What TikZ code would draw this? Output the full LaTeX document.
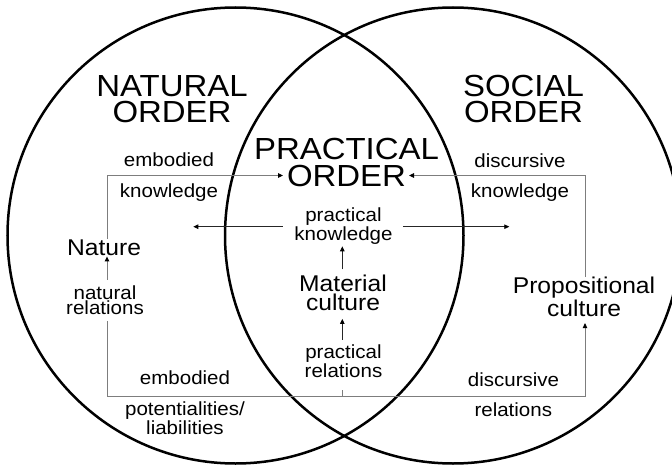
\documentclass[tikz,border=0pt]{standalone}
\usepackage{fontspec}
\setmainfont{Liberation Sans}[FakeStretch=1.08]
\usetikzlibrary{arrows.meta}
\newcommand\fBig{\fontsize{30.5}{26}\selectfont}
\newcommand\fBigP{\fontsize{30.5}{27.2}\selectfont}
\newcommand\fMid{\fontsize{22.8}{19.5}\selectfont}
\newcommand\fSm{\fontsize{19}{15.5}\selectfont}
\definecolor{linegray}{RGB}{125,125,125}
\tikzset{
  bigtxt/.style={font=\fBig, inner sep=0pt, align=center},
  midtxt/.style={font=\fMid, inner sep=0pt, align=center},
  smtxt/.style={font=\fSm, inner sep=0pt, align=center},
  gline/.style={draw=linegray, line width=0.9pt},
  kline/.style={draw=black!85, line width=0.8pt},
  arr/.style={-{Triangle[length=5pt,width=4.5pt,color=black]}},
  ring/.style={draw=black, line width=2.5pt}
}
\begin{document}
\begin{tikzpicture}[x=1pt,y=-1pt]
\useasboundingbox (0,0) rectangle (672,468);
% circles
\draw[ring] (235.5,235.5) circle[radius=228pt];
\draw[ring] (453,235.5) circle[radius=228pt];
% titles
\node[bigtxt] (natord) at (172,99.3) {NATURAL\\ORDER};
\node[bigtxt] (socord) at (523.5,99.3) {SOCIAL\\ORDER};
\node[bigtxt, font=\fBigP] (pracord) at (346.5,162.2) {PRACTICAL\\ORDER};
% labels
\node[smtxt, anchor=base] (emb1) at (169,167) {embodied};
\node[smtxt, anchor=base] (kn1) at (169,197) {knowledge};
\node[smtxt, anchor=base] (dis1) at (520,167.3) {discursive};
\node[smtxt, anchor=base] (kn2) at (520,197.5) {knowledge};
\node[midtxt, anchor=base] (nature) at (104,255) {Nature};
\node[smtxt] (pk) at (343.5,226.2) {practical\\knowledge};
\node[smtxt] (natrel) at (105,300.3) {natural\\relations};
\node[midtxt] (matcul) at (343,293) {Material\\culture};
\node[midtxt] (propcul) at (584,296.9) {Propositional\\culture};
\node[smtxt] (prel) at (343.5,361.5) {practical\\relations};
\node[smtxt, anchor=base] (emb2) at (185,384) {embodied};
\node[smtxt] (potlia) at (185,417.9) {potentialities/\\liabilities};
\node[smtxt, anchor=base] (dis2) at (513.5,386) {discursive};
\node[smtxt, anchor=base] (rel2) at (513.3,416.7) {relations};
% corner coordinates
\coordinate (ulc) at (107,175.5);
\coordinate (urc) at (585,175.5);
\coordinate (llc) at (107,396.5);
\coordinate (lrc) at (585,396.5);
\coordinate (ordL) at (283,175.5);
\coordinate (ordR) at (409,175.5);
\coordinate (pkL) at (193.3,226.7);
\coordinate (pkR) at (509.3,226.7);
\coordinate (midb) at (342.3,396.5);
% gray loop connectors
\draw[gline, arr] (nature.north -| ulc) -- (ulc) -- (ordL);
\draw[gline, arr, shorten <=5.5pt, shorten >=1pt] (natrel.north -| ulc) -- (nature.south -| ulc);
\draw[gline, arr, shorten <=6pt, shorten >=6.5pt] (natrel.south -| llc) -- (llc) -- (lrc) -- (propcul.south -| lrc);
\draw[gline, arr] (propcul.north -| urc) -- (urc) -- (ordR);
\draw[gline, shorten <=12pt] (prel.south -| midb) -- (midb);
% central arrows
\draw[kline, arr, shorten <=11.5pt] (pk.west |- pkL) -- (pkL);
\draw[kline, arr, shorten <=10pt] (pk.east |- pkR) -- (pkR);
\draw[kline, arr, shorten <=5.4pt, shorten >=1.7pt] (matcul.north -| midb) -- (pk.south -| midb);
\draw[kline, arr, shorten <=5.3pt, shorten >=7.6pt] (prel.north -| midb) -- (matcul.south -| midb);
\end{tikzpicture}
\end{document}
